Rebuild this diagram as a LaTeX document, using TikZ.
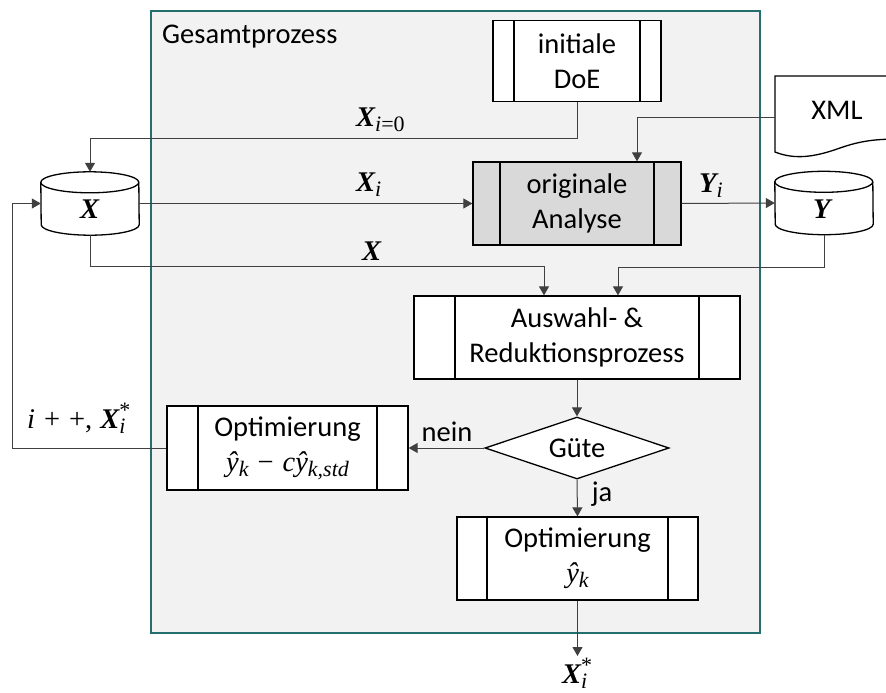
\documentclass[tikz,border=0pt]{standalone}
\usepackage{fontspec}
\setmainfont{Carlito}
\newfontfamily\mf{Liberation Serif}
\usetikzlibrary{shapes.geometric,arrows.meta,calc}
\definecolor{teal1}{RGB}{36,110,110}
\definecolor{panel}{RGB}{242,242,242}
\definecolor{anafill}{RGB}{217,217,217}
\definecolor{linec}{RGB}{64,64,64}
\newcommand\bvar[1]{{\mf\bfseries\itshape #1}}
\newcommand\ivar[1]{{\mf\itshape #1}}
\newcommand\sbs[1]{\raisebox{-5pt}{\fontsize{22}{22}\selectfont\mf #1}}
\newcommand\sps[1]{\raisebox{11pt}{\fontsize{22}{22}\selectfont\mf #1}}
\newcommand\supsub[2]{\rlap{\sps{#1}}\sbs{#2}}
\newcommand\cylout[1]{%
 \draw[line width=1.3pt,fill=white] ([yshift=-10.5pt]#1.north west) arc[start angle=180,end angle=0,x radius=49pt,y radius=10.5pt] -- ([yshift=10.5pt]#1.south east) arc[start angle=0,end angle=-180,x radius=49pt,y radius=10.5pt] -- cycle;
 \draw[line width=1.3pt] ([yshift=-10.5pt]#1.north west) arc[start angle=180,end angle=360,x radius=49pt,y radius=10.5pt];}
\begin{document}
\begin{tikzpicture}[x=1pt,y=-1pt,
 font=\fontsize{28.5}{35}\selectfont,
 proc/.style={draw=black,line width=1.3pt,fill=white,rectangle,align=center,inner sep=0pt,
   path picture={\draw[line width=1.3pt] ([xshift=#1]path picture bounding box.north west) -- ([xshift=#1]path picture bounding box.south west);
     \draw[line width=1.3pt] ([xshift=-#1]path picture bounding box.north east) -- ([xshift=-#1]path picture bounding box.south east);}},
 conn/.style={draw=linec,line width=1pt},
 arr/.style={conn,-{Triangle[length=9pt,width=10pt]}},
 lbl/.style={inner sep=0pt,anchor=base west}
]
\clip (0,0) rectangle (886,693);
\fill[white] (0,0) rectangle (886,693);
% container
\node[draw=teal1,line width=1.5pt,fill=panel,minimum width=609pt,minimum height=622pt,inner sep=0pt] (gp) at (455.5,322) {};
\node[anchor=west,inner sep=0pt] (gptext) at (162,37) {Gesamtprozess};

% process boxes
\node[proc=21pt,minimum width=168pt,minimum height=81pt] (doe) at (577,61) {initiale\\DoE};
\node[proc=27pt,fill=anafill,minimum width=208pt,minimum height=83pt] (ana) at (577,203.5) {originale\\Analyse};
\node[proc=41pt,minimum width=326pt,minimum height=83pt] (aus) at (577,337.5) {Auswahl- \&\\Reduktionsprozess};
\node[draw,line width=1.3pt,fill=white,diamond,aspect=3,minimum width=184pt,minimum height=62pt,inner sep=0pt] (gute) at (577,448) {Güte};
\node[proc=31pt,minimum width=241pt,minimum height=84pt] (opt1) at (287.5,448) {Optimierung\\\ivar{ŷ}\sbs{\itshape k}\hspace{9pt}{\mf −}\hspace{9pt}\ivar{cŷ}\sbs{\itshape k,std}};
\node[proc=30pt,minimum width=241pt,minimum height=83pt] (opt2) at (577.5,558.5) {Optimierung\\\ivar{ŷ}\sbs{\itshape k}};

% cylinders
\node[inner sep=0pt,minimum width=98pt,minimum height=63pt] (X) at (90,203.5) {};
\cylout{X}
\node[lbl] (Xt) at (80,218) {\bvar{X}};
\node[inner sep=0pt,minimum width=98pt,minimum height=63pt] (Y) at (824,203) {};
\cylout{Y}
\node[lbl] (Yt) at (813,218) {\bvar{Y}};

% document
\draw[line width=1.3pt,fill=white] (775,152) -- (775,76) -- (900,76) -- (900,139)
  .. controls (875,139) and (860,141) .. (840,148)
  .. controls (815,157) and (795,160) .. (775,152) -- cycle;
\node[inner sep=0pt,minimum width=125pt,minimum height=82pt] (xml) at (837.5,117) {};
\node[inner sep=0pt] (xmlt) at (837,110) {XML};

% connectors
\coordinate (c1) at (90,138);
\draw[arr] (doe.south) |- (c1) -- (X.north);
\draw[arr] (X.east) -- (ana.west);
\draw[arr] (ana.east) -- (Y.west);
\draw[arr] (xml.west) -| ([xshift=60pt]ana.north);
\coordinate (c2) at (544,266);
\draw[arr] (X.south) |- (c2) -- (c2 |- aus.north);
\coordinate (c3) at (618,267);
\draw[arr] (Y.south) |- (c3) -- (c3 |- aus.north);
\draw[arr] (aus.south) -- (gute.north);
\draw[arr] (gute.west) -- (opt1.east);
\coordinate (c4) at (12,448);
\draw[arr] (opt1.west) -- (c4) |- (X.west);
\draw[arr] (gute.south) -- (opt2.north);
\coordinate (xend) at (577.5,656);
\draw[arr] (opt2.south) -- (xend);

% labels
\node[lbl] (lx0) at (356,126) {\bvar{X}\sbs{\itshape i\upshape =0}};
\node[lbl] (lxi) at (356,191) {\bvar{X}\sbs{\itshape i}};
\node[lbl] (lyi) at (699,192) {\bvar{Y}\sbs{\itshape i}};
\node[lbl] (lx) at (362,260) {\bvar{X}};
\node[lbl] (lip) at (27,428) {\ivar{i}\hspace{9pt}{\mf +}\hspace{9pt}{\mf +,}\hspace{8pt}\bvar{X}\supsub{*}{\itshape i}};
\node[inner sep=0pt] (nein) at (447,432) {nein};
\node[inner sep=0pt] (ja) at (602,494) {ja};
\node[lbl] (xs) at (562,683) {\bvar{X}\supsub{*}{\itshape i}};
\end{tikzpicture}
\end{document}
